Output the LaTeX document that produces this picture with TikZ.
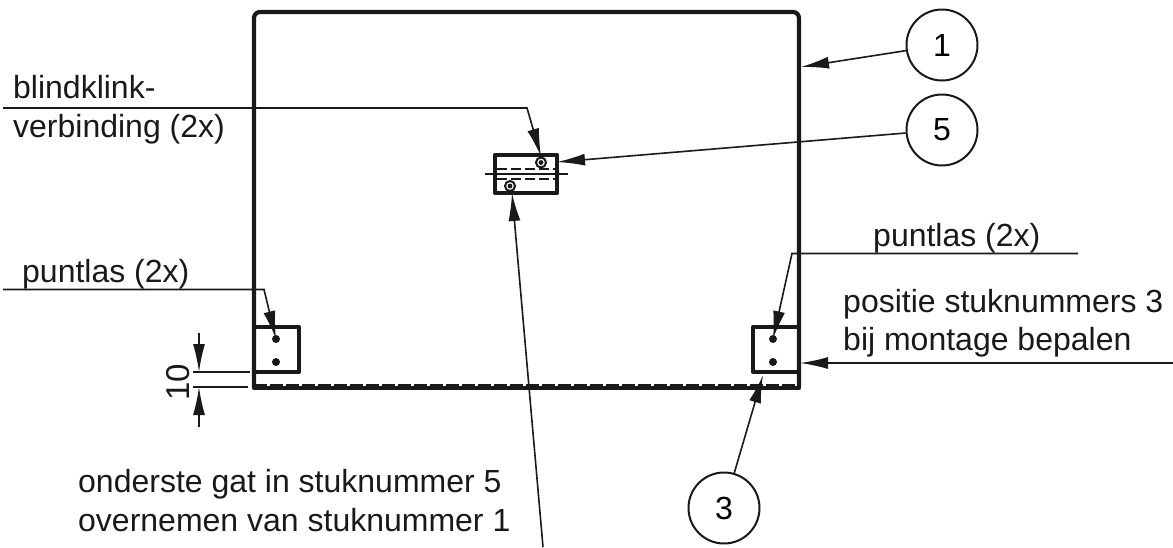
\documentclass[tikz,border=0pt]{standalone}
\usepackage{fontspec}
\setmainfont{Liberation Sans}
\usetikzlibrary{arrows.meta,calc}
\tikzset{
  heavy/.style={line width=4.2pt,line join=round,black!90},
  thin line/.style={line width=1.6pt,black!90},
  leader/.style={thin line,-{Latex[length=28pt,width=12pt,black!90]}},
  callout/.style={circle,draw=black!90,line width=2pt,minimum size=71pt,inner sep=0pt,font=\fontsize{32}{36}\selectfont},
  lbl/.style={anchor=base west,inner sep=0pt,text=black!90,font=\fontsize{32}{36}\selectfont},
  dot/.style={circle,fill=black!90,minimum size=8pt,inner sep=0pt},
  rivet/.style={circle,draw=black!90,line width=2pt,fill=white,minimum size=10pt,inner sep=0pt},
  dashes/.style={line width=1.6pt,black!90,dash pattern=on 10pt off 4pt}
}
\begin{document}
\begin{tikzpicture}[x=1pt,y=-1pt]
\useasboundingbox (0,0) rectangle (1173,547);
% plate
\draw[heavy,rounded corners=6pt] (254,387) -- (254,12) -- (799,12) -- (799,387);
\draw[heavy] (254,380) -- (254,388) -- (799,388) -- (799,380);
\draw[line width=2pt,black!90,dash pattern=on 13pt off 3pt] (254,385) -- (799,385);
% corner plates
\draw[heavy] (254,327) rectangle (299,372);
\draw[heavy] (753,327) rectangle (799,372);
\node[dot] (d1) at (276,339) {};
\node[dot] (d2) at (276,362) {};
\node[dot] (d3) at (773,339) {};
\node[dot] (d4) at (773,362) {};
% centre block
\draw[heavy] (495,155) rectangle (557,193);
\draw[thin line] (485,174) -- (568,174);
\draw[dashes] (497,169) -- (555,169);
\draw[dashes] (497,179) -- (555,179);
\node[rivet] (r1) at (541,162.5) {};
\node[rivet] (r2) at (510,186) {};
\fill[black!90] (541,162.5) circle (2.4pt) (510,186) circle (2.4pt);
% callouts
\node[callout] (c1) at (942,45) {1};
\node[callout] (c5) at (942,130) {5};
\node[callout] (c3) at (724,508) {3};
% labels
\node[lbl] (t1) at (13,98) {blindklink-};
\node[lbl] (t2) at (13,137) {verbinding (2x)};
\node[lbl] (t3) at (22,282) {puntlas (2x)};
\node[lbl] (t4) at (873,246) {puntlas (2x)};
\node[lbl] (t5) at (843,312) {positie stuknummers 3};
\node[lbl] (t6) at (843,350) {bij montage bepalen};
\node[lbl] (t7) at (78,492) {onderste gat in stuknummer 5};
\node[lbl] (t8) at (78,531) {overnemen van stuknummer 1};
\node[inner sep=0pt,rotate=90,font=\fontsize{33}{36}\selectfont,text=black!90] (dim) at (178,382) {10};
% free ends
\coordinate (e1) at (801,67);
\coordinate (e5) at (557,162);
\coordinate (e3) at (763,375);
\coordinate (a0) at (3,108);
\coordinate (a1) at (527,108);
\coordinate (b0) at (3,289.5);
\coordinate (b1) at (264,289.5);
\coordinate (f0) at (1078,253.5);
\coordinate (f1) at (792,253.5);
\coordinate (g0) at (1173,363);
\coordinate (g1) at (800,363);
\coordinate (h0) at (543,547);
\coordinate (h1) at (512,193);
\coordinate (k0) at (193,372);
\coordinate (k1) at (250,372);
\coordinate (l0) at (193,387);
\coordinate (l1) at (248,387);
\coordinate (m0) at (199,333);
\coordinate (m1) at (199,372);
\coordinate (n0) at (199,427);
\coordinate (n1) at (199,387);
% leaders
\draw[leader] (c1) -- (e1);
\draw[leader] (c5) -- (e5);
\draw[leader] (c3) -- (e3);
\draw[leader] (a0) -- (a1) -- (r1.north);
\draw[leader] (b0) -- (b1) -- (d1.center);
\draw[leader] (f0) -- (f1) -- (d3.center);
\draw[leader] (g0) -- (g1);
\draw[leader] (h0) -- (h1);
% dimension
\draw[thin line] (k0) -- (k1);
\draw[thin line] (l0) -- (l1);
\draw[leader] (m0) -- (m1);
\draw[leader] (n0) -- (n1);
\end{tikzpicture}
\end{document}
